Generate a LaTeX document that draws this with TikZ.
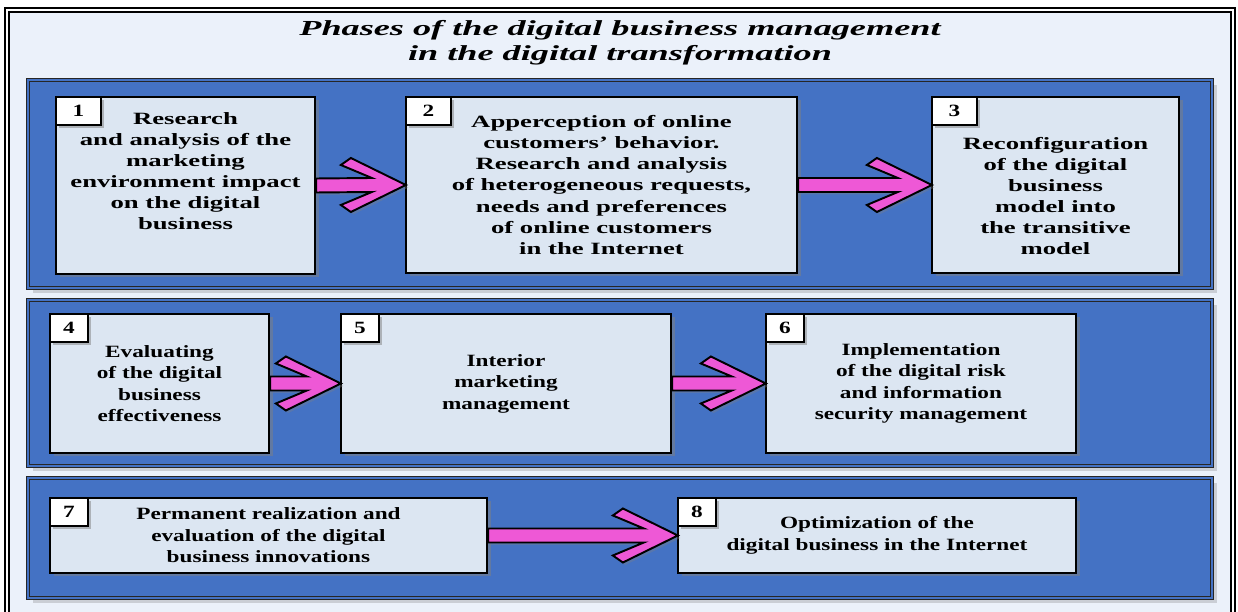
\documentclass[tikz,border=0pt]{standalone}
\usepackage{fontspec}
\setmainfont{Liberation Serif}
\newfontfamily\headfont{Liberation Serif}[FakeStretch=1.69]
\newfontfamily\widefont{Liberation Serif}[FakeStretch=1.55]
\newfontfamily\narrowfont{Liberation Serif}[FakeStretch=1.35]
\usetikzlibrary{shadows}

\definecolor{framebg}{RGB}{235,241,250}
\definecolor{bandblue}{RGB}{68,114,196}
\definecolor{boxbg}{RGB}{220,230,242}
\definecolor{flowpink}{RGB}{238,88,214}

\begin{document}
\begin{tikzpicture}[
	band/.style={draw=black!85, line width=0.6pt, double=bandblue, double distance=1.4pt, fill=bandblue,
		minimum width=23.68cm, inner sep=0pt, drop shadow={shadow xshift=1mm, shadow yshift=-1mm, opacity=0.3}},
	phase/.style={draw=black, line width=1.3pt, fill=boxbg, inner sep=0pt,
		drop shadow={shadow xshift=0.7mm, shadow yshift=-0.7mm, opacity=0.5}},
	tag/.style={draw=black, line width=1.3pt, fill=white, inner sep=0pt, anchor=north west, minimum height=0.56cm,
		font=\narrowfont\bfseries\fontsize{9.8}{11}\selectfont, drop shadow={shadow xshift=0.6mm, shadow yshift=-0.6mm, opacity=0.5}},
	txt/.style={align=center, font=\narrowfont\bfseries\fontsize{9.8}{12.2}\selectfont},
	widetxt/.style={align=center, font=\widefont\bfseries\fontsize{9.8}{12}\selectfont},
	flow/.style={draw=black, line width=1.1pt, fill=flowpink, line join=miter,
		drop shadow={shadow xshift=0.5mm, shadow yshift=-0.5mm, opacity=0.35}}]

	\useasboundingbox (0,0) rectangle (24.76,12.24);
	\draw[draw=black, line width=0.7pt, double=white, double distance=1.5pt, fill=framebg] (0.14,-0.3) rectangle (24.66,12.04);

	\node[align=center, font=\headfont\bfseries\itshape\fontsize{12.2}{14.2}\selectfont] (head) at (12.4,11.38)
		{Phases of the digital business management\\in the digital transformation};

	% three rows
	\node[band, minimum height=4.16cm] (r1) at (12.4,8.56) {};
	\node[band, minimum height=3.32cm] (r2) at (12.4,4.58) {};
	\node[band, minimum height=2.40cm] (r3) at (12.4,1.48) {};

	\node[phase, minimum width=5.18cm, minimum height=3.54cm] (p1) at (3.71,8.53) {};
	\node[phase, minimum width=7.82cm, minimum height=3.52cm] (p2) at (12.03,8.54) {};
	\node[phase, minimum width=4.94cm, minimum height=3.52cm] (p3) at (21.11,8.54) {};
	\node[phase, minimum width=4.38cm, minimum height=2.78cm] (p4) at (3.19,4.57) {};
	\node[phase, minimum width=6.60cm, minimum height=2.78cm] (p5) at (10.12,4.57) {};
	\node[phase, minimum width=6.20cm, minimum height=2.78cm] (p6) at (18.42,4.57) {};
	\node[phase, minimum width=8.74cm, minimum height=1.50cm] (p7) at (5.37,1.53) {};
	\node[phase, minimum width=7.96cm, minimum height=1.50cm] (p8) at (17.54,1.53) {};

	\node[widetxt] (t1) at ([yshift=2.9mm]p1.center)
		{Research\\and analysis of the\\marketing\\environment impact\\on the digital\\business};
	\node[widetxt] (t2) at (p2.center)
		{Apperception of online\\customers’ behavior.\\Research and analysis\\of heterogeneous requests,\\needs and preferences\\of online customers\\in the Internet};
	\node[widetxt] (t3) at ([yshift=-2.2mm]p3.center)
		{Reconfiguration\\of the digital\\business\\model into\\the transitive\\model};
	\node[txt] (t4) at (p4.center) {Evaluating\\of the digital\\business\\effectiveness};
	\node[txt] (t5) at (p5.center) {Interior\\marketing\\management};
	\node[txt] (t6) at (p6.center) {Implementation\\of the digital risk\\and information\\security management};
	\node[txt] (t7) at (p7.center) {Permanent realization and\\evaluation of the digital\\business innovations};
	\node[txt] (t8) at (p8.center) {Optimization of the\\digital business in the Internet};

	\foreach \n/\w in {1/0.9,2/0.9,3/0.9,4/0.76,5/0.76,6/0.76,7/0.76,8/0.76}
		\node[tag, minimum width=\w cm] (n\n) at (p\n.north west) {\n};

	% block arrows between the phases
	\foreach \a/\b in {p1/p2,p2/p3,p4/p5,p5/p6,p7/p8}
		\draw[flow] ([yshift=1.4mm]\a.east) -- ([xshift=-6.6mm,yshift=1.4mm]\b.west)
			-- ([xshift=-12.8mm,yshift=4mm]\b.west) -- ([xshift=-10.8mm,yshift=5.4mm]\b.west)
			-- ([xshift=0.2mm]\b.west)
			-- ([xshift=-10.8mm,yshift=-5.4mm]\b.west) -- ([xshift=-12.8mm,yshift=-4mm]\b.west)
			-- ([xshift=-6.6mm,yshift=-1.4mm]\b.west) -- ([yshift=-1.4mm]\a.east) -- cycle;
\end{tikzpicture}
\end{document}
